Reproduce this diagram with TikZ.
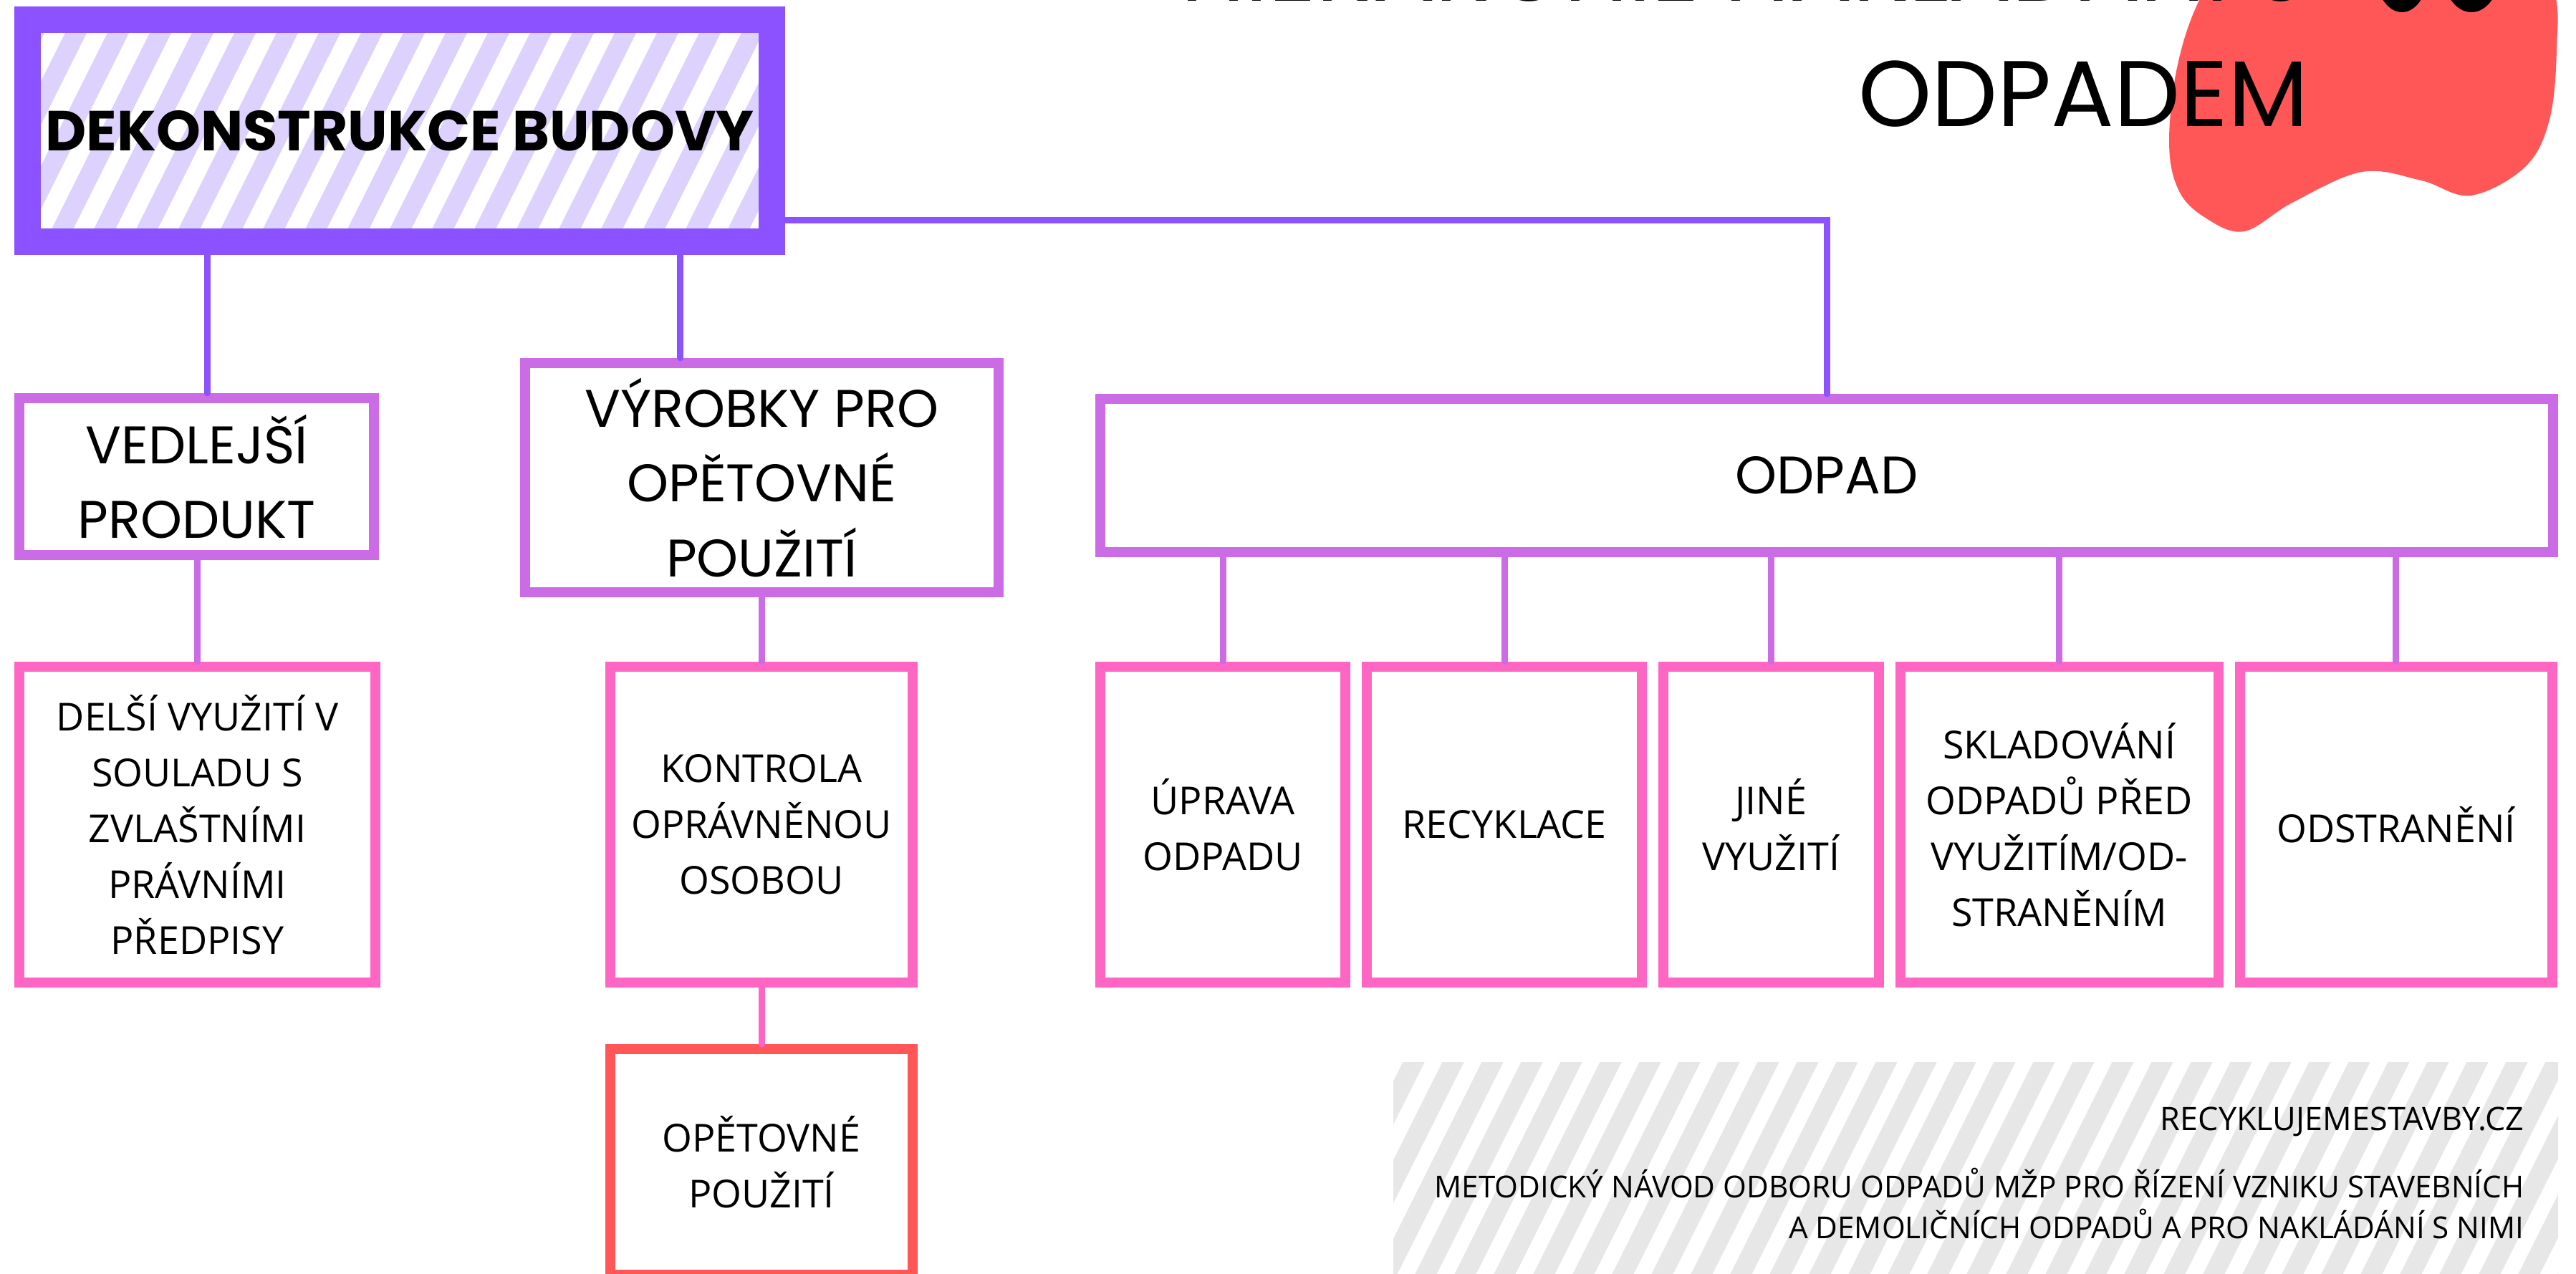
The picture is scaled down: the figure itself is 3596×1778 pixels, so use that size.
\documentclass[tikz,border=0pt]{standalone}
\usepackage{fontspec}
\setmainfont{Open Sans}
\newfontfamily\headfont{Poppins}
\usepackage{xcolor}
\usepackage{tikz}
\usetikzlibrary{positioning}

\definecolor{deepviolet}{HTML}{8C52FF}
\definecolor{lilac}{HTML}{DDD1FD}
\definecolor{orchid}{HTML}{CB6CE6}
\definecolor{hotpink}{HTML}{FF66C4}
\definecolor{coral}{HTML}{FF5757}
\definecolor{hatchgray}{HTML}{E7E7E7}

\begin{document}
\begin{tikzpicture}[
    x=0.01cm, y=-0.01cm,
    node distance=0.16cm,
    every node/.style={inner sep=0pt, align=center},
    rootbox/.style={
        draw=deepviolet,
        line width=0.37cm,
        minimum width=10.39cm,
        minimum height=3.10cm,
        font=\headfont\bfseries\fontsize{22.4}{28}\selectfont
    },
    mainbox/.style={draw=orchid, fill=white, line width=0.14cm, font=\headfont\fontsize{21}{29.6}\selectfont},
    leafbox/.style={draw=hotpink, fill=white, line width=0.14cm, minimum height=4.41cm, font=\fontsize{15.3}{22.2}\selectfont},
    endbox/.style={leafbox, draw=coral},
    link/.style={line width=0.09cm, line cap=round},
    hatch/.style={line width=0.27cm}
]
\useasboundingbox (0,0) rectangle (3596,1778);

% blob behind the title
\fill[coral] plot[smooth cycle, tension=0.6] coordinates {
    (3150,-130) (3075,-10) (3040,90) (3028,200) (3042,267) (3080,305) (3133,323)
    (3200,283) (3297,240) (3380,252) (3449,273) (3525,233) (3559,167) (3569,67)
    (3563,-20) (3500,-130)};
\fill (3353,-40) ellipse [x radius=37, y radius=57];
\fill (3450,-40) ellipse [x radius=40, y radius=57];

\node[anchor=base east, align=right, font=\headfont\fontsize{37}{49.5}\selectfont] (title)
    at (3223,176) {HIERARCHIE NAKLÁDÁNÍ S\\ODPADEM};

% source panel
\begin{scope}
    \clip (1945,1483) rectangle (3571,1800);
    \foreach \k in {0,...,34}
        \draw[hatchgray, hatch] (1750+\k*55, 1820) -- ++(180,-360);
\end{scope}

\node[anchor=base east, font=\fontsize{12.8}{16.2}\selectfont] (site) at (3524,1578) {RECYKLUJEMESTAVBY.CZ};
\node[anchor=base east, align=right, font=\fontsize{12}{16.2}\selectfont] (source) at (3524,1729)
    {METODICKÝ NÁVOD ODBORU ODPADŮ MŽP PRO ŘÍZENÍ VZNIKU STAVEBNÍCH\\A DEMOLIČNÍCH ODPADŮ A PRO NAKLÁDÁNÍ S NIMI};

% hierarchy
\begin{scope}
    \clip (57,46) rectangle (1059,319);
    \foreach \k in {0,...,21}
        \draw[lilac, hatch] (\k*59-100, 340) -- ++(160,-320);
\end{scope}
\node[rootbox] (root) at (558,182.5) {DEKONSTRUKCE BUDOVY};

\node[mainbox, minimum width=4.95cm, minimum height=2.19cm] (byprod) at (274.5,665.5) {VEDLEJŠÍ\\PRODUKT};
\node[mainbox, minimum width=6.61cm, minimum height=3.20cm] (reuseprod) at (1063.5,667) {VÝROBKY PRO\\OPĚTOVNÉ\\POUŽITÍ};
\node[mainbox, minimum width=20.26cm, minimum height=2.14cm] (waste) at (2550,664) {ODPAD};

\node[leafbox, minimum width=4.97cm] (longuse) at (275.5,1151.5) {DELŠÍ VYUŽITÍ V\\SOULADU S\\ZVLAŠTNÍMI\\PRÁVNÍMI\\PŘEDPISY};
\node[leafbox, minimum width=4.22cm] (check) at (1063,1151.5) {KONTROLA\\OPRÁVNĚNOU\\OSOBOU};
\node[endbox, minimum width=4.22cm, minimum height=3.15cm, below=0.79cm of check] (reuse) {OPĚTOVNÉ\\POUŽITÍ};

\node[leafbox, minimum width=3.42cm] (treat) at (1707,1151.5) {ÚPRAVA\\ODPADU};
\node[leafbox, minimum width=3.84cm, right=of treat] (recycle) {RECYKLACE};
\node[leafbox, minimum width=3.00cm, right=of recycle] (otheruse) {JINÉ\\VYUŽITÍ};
\node[leafbox, minimum width=4.44cm, right=of otheruse] (storage) {SKLADOVÁNÍ\\ODPADŮ PŘED\\VYUŽITÍM/OD-\\STRANĚNÍM};
\node[leafbox, minimum width=4.36cm, right=of storage] (disposal) {ODSTRANĚNÍ};

\draw[link, deepviolet] ([xshift=0.145cm]byprod.north) -- ([xshift=0.145cm]byprod.north |- root.south);
\draw[link, deepviolet] ([xshift=-1.135cm]reuseprod.north) -- ([xshift=-1.135cm]reuseprod.north |- root.south);
\draw[link, deepviolet] ([yshift=-1.245cm]root.east) -| (waste.north);

\draw[link, orchid] (byprod.south -| longuse.north) -- (longuse.north);
\draw[link, orchid] (reuseprod.south -| check.north) -- (check.north);
\draw[link, hotpink] (check.south) -- (reuse.north);
\foreach \leaf in {treat,recycle,otheruse,storage,disposal}
    \draw[link, orchid] (waste.south -| \leaf.north) -- (\leaf.north);

\end{tikzpicture}
\end{document}
